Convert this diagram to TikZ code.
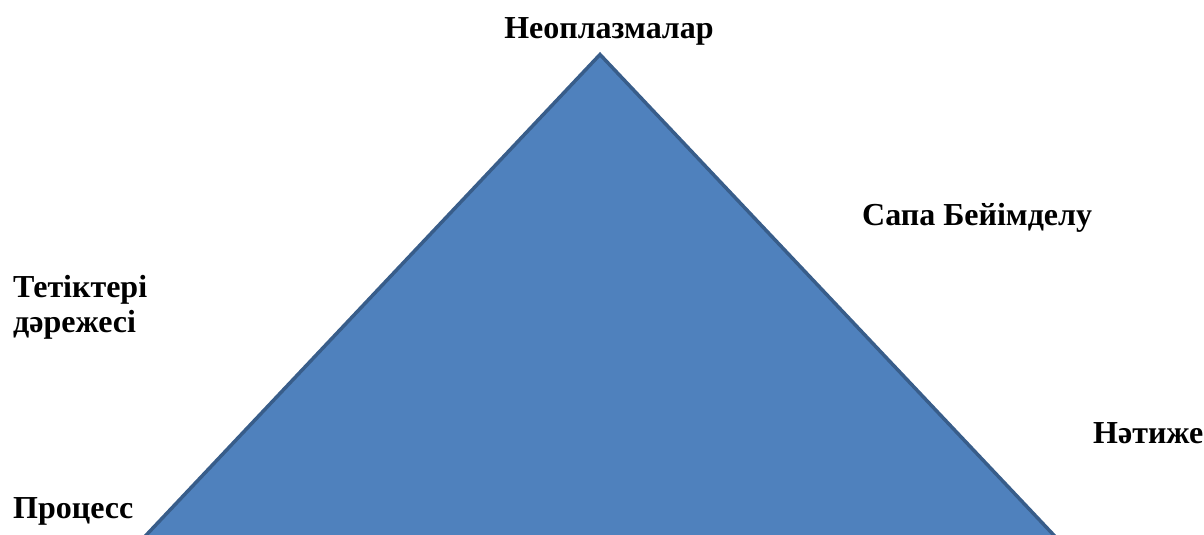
\documentclass[tikz,border=0pt]{standalone}
\usepackage{fontspec}
\setmainfont{Liberation Serif}
\usepackage{tikz}
\usetikzlibrary{calc}
\definecolor{cFill}{HTML}{4F81BD}
\definecolor{cEdge}{HTML}{385D8A}
\tikzset{
  lbl/.style={font=\fontsize{32}{35}\selectfont\bfseries,inner sep=0pt,
              align=left,anchor=base west},
  tri/.style={fill=cFill,draw=cEdge,line width=3.5pt,line join=miter},
}

\begin{document}
\begin{tikzpicture}[x=1pt,y=-1pt]
  \useasboundingbox (0,0) rectangle (1204,535);
  \clip (0,0) rectangle (1204,535);
  % the pyramid, its base runs off the bottom edge
  \coordinate (apex) at (600,54.5);
  \coordinate (bl) at (118,565);
  \coordinate (br) at (1082,565);
  \draw[tri] (apex) -- (br) -- (bl) -- cycle;
  % labels
  \node[lbl,anchor=base] (neo) at (609,38) {Неоплазмалар};
  \node[lbl] (sapa) at (862,225) {Сапа Бейімделу};
  \node[lbl] (tet) at (13,332) {Тетіктері\\дәрежесі};
  \node[lbl] (proc) at (13,518) {Процесс};
  \node[lbl] (net) at (1093,443) {Нәтиже};
\end{tikzpicture}
\end{document}
